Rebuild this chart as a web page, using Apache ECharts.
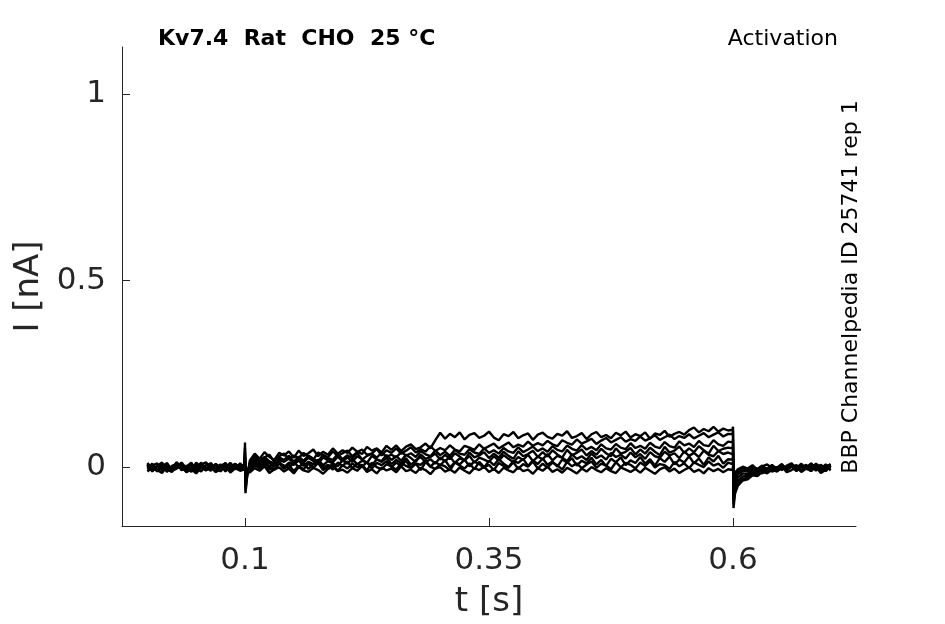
<!DOCTYPE html>
<html>
<head>
<meta charset="utf-8">
<script src="https://cdn.jsdelivr.net/npm/echarts@6/dist/echarts.min.js"></script>
<style>
html,body{margin:0;padding:0;background:#fff;}
#chart{width:945px;height:624px;}
</style>
</head>
<body>
<div id="chart"></div>
<script>
// sample times [s]: 0..0.095 (step 0.005), step onset, 0.105..0.595, step offset, 0.605..0.70
function grid(a, b, s) { const o = []; for (let k = 0; a + k * s <= b + 1e-9; k++) o.push(+(a + k * s).toFixed(4)); return o; }
const tPre = grid(0, 0.095, 0.005);
const tOn = [0.0995, 0.1, 0.1005, 0.102];
const tPulse = grid(0.105, 0.595, 0.005);
const tOff = [0.5995, 0.6, 0.6005, 0.602];
const tPost = grid(0.605, 0.70, 0.005);
const t = [].concat(tPre, tOn, tPulse, tOff, tPost);

// current traces in pA: pre (20), onset (4), pulse (99), offset (4), post (20)
const traceA = [8,-11,3,12,-6,-2,10,-9,4,-13,7,1,-8,11,-4,6,-12,2,9,-5,
  5,66,-70,-30,
  18,36,22,40,27,19,38,31,42,25, 44,30,37,47,29,41,33,50,36,45, 38,52,41,35,54,44,50,39,57,46,
  58,43,55,61,48,53,63,50, 72,92,
  76,89,80,93,74,86,91,78,84,95, 79,72,88,83,94,77,85,90,73,87, 92,81,76,89,84,96,78,83,91,75,
  88,94,80,86,77,92,85,95,79,88, 83,93,76,90,86,97,81,89,94,87, 99,106,93,102,96,108,95,103,98,
  100,108,-110,-72,
  -50,-36,-33,-22,-24,-13,-17,-7,-12,-2,-9,4,-6,7,-5,9,-3,6,-8,3];
const traceB = [-4,9,-10,5,1,-7,12,-3,-11,6,-1,10,-8,3,-13,7,-2,11,-6,2,
  -3,52,-62,-26,
  12,30,17,26,33,14,29,36,21,31, 24,38,27,20,39,32,26,42,30,37, 44,29,40,47,33,36,49,31,45,38,
  50,36,44,53,39,48,41,56,43,51, 45,58,47,42,57,52,46,61,49,56, 63,50,58,66,53,60,55,68,57,64,
  58,70,61,56,72,65,60,74,63,69, 76,62,71,78,66,73,80,68,75,70, 82,71,77,85,73,80,87,75,83,78,
  88,77,84,91,80,87,93,82,89,
  88,97,-100,-62,
  -44,-31,-29,-18,-21,-9,-14,-4,-10,2,-7,6,-3,9,-6,4,-10,5,-2,8];
const traceC = [6,-12,3,-4,11,-8,0,9,-13,4,-6,12,-2,-10,7,1,-9,10,-5,3,
  2,42,-52,-22,
  8,24,12,27,15,10,26,19,30,14, 28,17,31,22,15,33,24,19,35,21, 32,23,37,20,30,36,25,39,28,33,
  26,40,31,37,27,43,34,29,44,32, 41,30,46,36,33,48,39,35,50,38, 45,36,51,42,38,53,40,47,55,43,
  50,41,56,46,42,58,49,44,59,47, 54,45,61,50,47,62,52,48,64,51, 57,49,65,55,51,67,56,52,69,58,
  63,54,70,59,56,72,61,57,68,
  66,74,-90,-52,
  -37,-25,-24,-13,-17,-6,-12,-1,-7,5,-4,8,-9,3,-2,10,-6,1,-11,4];
const traceD = [-7,4,10,-11,2,-5,13,-3,-9,7,-1,-12,5,9,-6,0,11,-8,3,-4,
  0,36,-46,-18,
  3,18,7,21,10,5,20,14,23,9, 22,12,25,16,8,26,18,13,28,15, 26,14,29,21,11,30,20,16,32,19,
  29,17,33,24,14,34,22,27,36,20, 33,21,37,28,18,39,26,31,40,24, 36,25,41,30,22,42,29,35,44,27,
  40,28,45,34,25,46,32,38,47,31, 43,33,49,37,29,50,36,41,51,34, 47,36,52,41,32,54,39,44,55,38,
  50,40,56,45,36,57,43,49,52,
  50,60,-80,-42,
  -28,-17,-19,-8,-12,-2,-9,3,-5,6,-7,2,-11,4,-3,8,-1,-6,5,-9];
const traceE = [11,-3,-9,6,-13,3,8,-6,1,12,-10,5,-2,-7,9,-12,4,0,-5,10,
  -2,30,-40,-14,
  -2,13,4,17,1,9,15,-1,12,6, 18,3,14,8,20,5,16,10,2,19, 9,22,7,17,12,4,21,14,25,8,
  19,11,24,6,18,27,13,21,9,26, 15,28,11,23,18,30,12,25,20,14, 29,17,32,22,13,27,19,33,16,28,
  21,35,18,30,25,16,34,22,29,19, 36,24,31,20,38,27,33,23,39,26, 35,22,40,29,25,41,31,37,24,42,
  30,38,27,44,33,29,43,35,39,
  34,44,-70,-32,
  -19,-10,-12,-2,-7,3,-5,6,-9,2,-3,9,-8,4,0,-11,5,-4,7,-1];
const traceF = [-1,7,-12,3,9,-8,-3,12,-5,1,-11,6,13,-4,-9,5,2,-13,8,-2,
  1,25,-35,-10,
  -6,9,-2,12,1,-8,10,4,-4,13, 0,11,-5,8,14,-1,6,-7,12,3, 15,-3,9,2,13,-4,11,5,16,0,
  12,3,17,-2,10,6,18,1,14,4, 19,-1,13,7,20,2,15,8,-2,17, 5,21,9,0,16,11,22,3,18,8,
  23,6,15,1,20,12,24,4,17,10, 25,7,19,3,22,13,26,5,18,11, 27,9,21,4,24,14,28,7,20,12,
  29,10,23,6,26,15,30,9,21,
  20,27,-60,-22,
  -12,-4,-8,1,-5,4,-10,3,-2,8,-7,1,5,-9,3,-4,9,-1,-6,2];
const traceG = [5,-10,2,8,-6,-13,4,10,-3,-8,12,0,-6,7,-11,3,9,-4,-1,6,
  2,20,-30,-10,
  -9,4,-3,8,-7,2,10,-5,6,-11, 3,-6,9,-2,11,-8,1,7,-10,5, -4,10,-1,6,-9,12,0,-6,8,2,
  -7,11,3,-3,9,-8,13,1,-5,7, 2,-9,12,4,-4,10,-6,14,0,6, -8,11,3,-2,13,-5,8,1,15,-4,
  9,-1,12,5,-7,14,2,10,-3,7, 15,-2,9,4,-6,13,0,11,6,-4, 12,3,16,-1,8,5,-5,14,2,10,
  -3,13,6,0,15,4,9,-2,12,
  8,14,-50,-15,
  -6,1,-4,5,-9,2,7,-3,0,-8,4,10,-5,-1,6,-7,3,-10,1,5];
const traceH = [-12,-1,-8,-16,2,-10,-4,3,-14,-6,-17,-2,-9,0,-13,-7,4,-15,-3,-10,
  -6,15,-28,-14,
  -14,-3,-10,2,-16,-6,-1,-12,-4,-17, 0,-9,-13,-2,-8,-18,-5,1,-11,-7, -15,-3,-10,3,-13,-6,-17,-1,-9,-4,
  -14,2,-11,-7,-16,-2,-8,-19,-4,0, -12,-6,-15,-1,-10,-17,-3,-8,1,-13, -5,-16,-2,-9,-14,0,-11,-7,-18,-3,
  -10,1,-13,-6,-15,-2,-9,-17,-4,-12, 0,-8,-14,-3,-11,-16,-1,-7,-13,-5, -15,-2,-10,-18,-6,0,-12,-4,-16,-8,
  -1,-13,-7,-17,-3,-11,-5,-14,-6,
  -8,0,-40,-14,
  -15,-5,-11,0,-9,-17,-3,-12,-6,2,-14,-8,-1,-13,-4,-10,1,-16,-7,-2];

const traces = [traceH, traceG, traceF, traceE, traceD, traceC, traceB, traceA];

const xTicks = [0.1, 0.35, 0.6];
const yTicks = [0, 0.5, 1];
const xLabels = ['0.1', '0.35', '0.6'];
const yLabels = ['0', '0.5', '1'];

const titleText = 'Kv7.4  Rat  CHO  25 °C';
const protocolText = 'Activation';
const sideText = 'BBP Channelpedia ID 25741 rep 1';
const xName = 't [s]';
const yName = 'I [nA]';

const chart = echarts.init(document.getElementById('chart'), null, {renderer: 'canvas'});
const axisColor = '#262626';
const font = 'DejaVu Sans';

const series = traces.map(function (v) {
  return {
    type: 'line',
    data: t.map(function (x, i) { return [x, v[i] / 1000]; }), // pA -> nA
    showSymbol: false,
    symbol: 'none',
    lineStyle: {color: '#000', width: 2.4},
    silent: true,
    animation: false
  };
});

chart.setOption({
  animation: false,
  backgroundColor: '#fff',
  grid: {left: 122, right: 89, top: 47, bottom: 98, containLabel: false},
  xAxis: {
    type: 'value',
    min: -0.026, max: 0.726,
    name: xName,
    nameLocation: 'middle',
    nameGap: 59,
    nameTextStyle: {fontFamily: font, fontSize: 34, color: axisColor},
    axisLine: {show: true, onZero: false, lineStyle: {color: axisColor, width: 1}},
    axisTick: {show: true, inside: true, length: 8, customValues: xTicks, lineStyle: {color: axisColor}},
    axisLabel: {
      customValues: xTicks,
      margin: 19,
      fontFamily: font, fontSize: 31, color: axisColor,
      formatter: function (val) { const i = xTicks.indexOf(val); return i >= 0 ? xLabels[i] : ''; }
    },
    splitLine: {show: false}
  },
  yAxis: {
    type: 'value',
    min: -0.158, max: 1.126,
    name: yName,
    nameLocation: 'middle',
    nameGap: 71,
    nameTextStyle: {fontFamily: font, fontSize: 34, color: axisColor},
    axisLine: {show: true, onZero: false, lineStyle: {color: axisColor, width: 1}},
    axisTick: {show: true, inside: true, length: 8, customValues: yTicks, lineStyle: {color: axisColor}},
    axisLabel: {
      customValues: yTicks,
      margin: 16,
      fontFamily: font, fontSize: 31, color: axisColor,
      formatter: function (val) { const i = yTicks.indexOf(val); return i >= 0 ? yLabels[i] : ''; }
    },
    splitLine: {show: false}
  },
  graphic: [
    {type: 'text', x: 158, y: 39, style: {text: titleText, fontFamily: font, fontSize: 22, fontWeight: 'bold', fill: '#000', textAlign: 'left', textVerticalAlign: 'middle'}},
    {type: 'text', x: 838, y: 39, style: {text: protocolText, fontFamily: font, fontSize: 22, fill: '#000', textAlign: 'right', textVerticalAlign: 'middle'}},
    {type: 'text', x: 851, y: 287, rotation: Math.PI / 2,
      style: {text: sideText, fontFamily: font, fontSize: 22, fill: '#000', textAlign: 'center', textVerticalAlign: 'middle'}}
  ],
  series: series
});
</script>
</body>
</html>
